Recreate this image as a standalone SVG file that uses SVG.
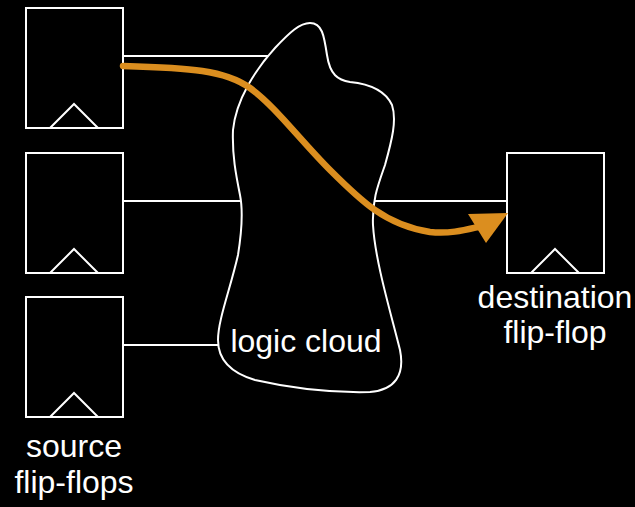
<svg xmlns="http://www.w3.org/2000/svg" width="635" height="507" viewBox="0 0 635 507">
  <defs>
    <style>
      .ff { fill: none; stroke: #ffffff; stroke-width: 2; }
      .wire { fill: none; stroke: #ffffff; stroke-width: 2; }
      .cloud { fill: #000000; stroke: #ffffff; stroke-width: 2; }
      .label { fill: #ffffff; font-family: "Liberation Sans", Arial, sans-serif; font-size: 32px; text-anchor: middle; }
      .path { fill: none; stroke: #DB8E1F; stroke-width: 6.5; stroke-linecap: round; }
    </style>
    <g id="flipflop">
      <rect x="0" y="0" width="97" height="120" class="ff"/>
      <polyline points="24,120 48,96 72,120" class="ff"/>
    </g>
  </defs>
  <rect width="635" height="507" fill="#000000"/>

  <!-- wires between flip-flops and the logic cloud -->
  <g id="connectors">
    <line x1="123" y1="56" x2="270" y2="56" class="wire"/>
    <line x1="123" y1="201" x2="242" y2="201" class="wire"/>
    <line x1="123" y1="345" x2="220" y2="345" class="wire"/>
    <line x1="372" y1="201" x2="507" y2="201" class="wire"/>
  </g>

  <g id="logic-cloud">
    <path class="cloud" d="M 310 23 C 322 23, 324 35, 327 55 C 330 75, 338 80, 350 82 C 370 84, 385 90, 392 105 C 397 120, 392 140, 385 165 C 378 185, 372 200, 373 225 C 375 260, 390 310, 400 350 C 405 375, 395 390, 370 392 C 330 393, 290 388, 255 380 C 228 372, 218 358, 218 340 C 218 320, 230 290, 238 255 C 242 230, 243 210, 240 195 C 236 175, 232 155, 233 130 C 236 100, 255 70, 275 48 C 290 32, 300 23, 310 23 Z"/>
    <text class="label" x="306" y="352">logic cloud</text>
  </g>

  <g id="source-ff-1">
    <use href="#flipflop" x="26" y="8"/>
  </g>
  <g id="source-ff-2">
    <use href="#flipflop" x="26" y="153"/>
  </g>
  <g id="source-ff-3">
    <use href="#flipflop" x="26" y="297"/>
    <text class="label" x="74" y="457">source</text>
    <text class="label" x="74" y="493">flip-flops</text>
  </g>

  <g id="destination-ff">
    <use href="#flipflop" x="507" y="153"/>
    <text class="label" x="555" y="308">destination</text>
    <text class="label" x="555" y="343">flip-flop</text>
  </g>

  <!-- critical timing path -->
  <g id="critical-path">
    <path class="path" d="M 123 66 C 190 68, 225 70, 250 88 C 275 106, 300 140, 330 170 C 360 200, 385 225, 430 232 C 450 234, 465 230, 478 227"/>
    <polygon points="508,213 468,214 486,243" fill="#DB8E1F"/>
  </g>
</svg>
